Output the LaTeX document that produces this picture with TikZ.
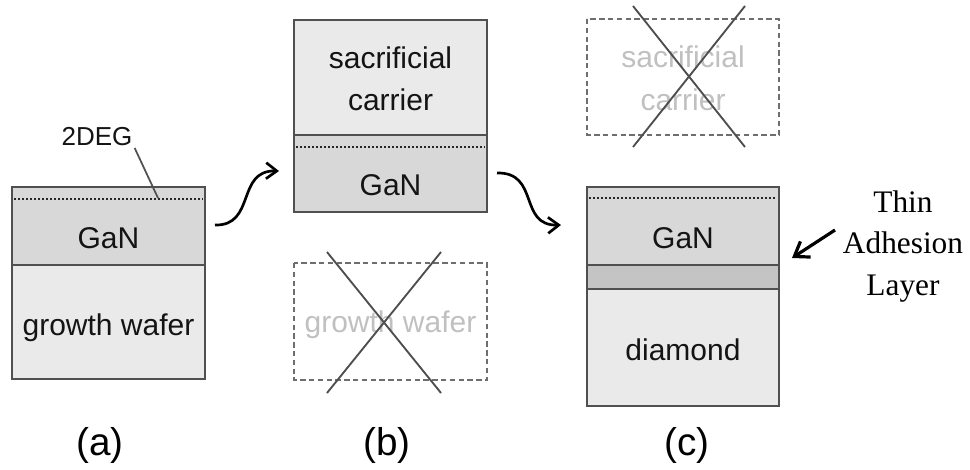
\documentclass[tikz,border=0pt]{standalone}
\usepackage{fontspec}
\setmainfont{Liberation Sans}
\newfontfamily\notefont{Liberation Serif}
\usetikzlibrary{arrows.meta}

\definecolor{edge}{HTML}{505050}
\definecolor{ganfill}{HTML}{D8D8D8}
\definecolor{basefill}{HTML}{EAEAEA}
\definecolor{gluefill}{HTML}{C4C4C4}
\definecolor{ghost}{HTML}{C0C0C0}
\definecolor{dashgray}{HTML}{6E6E6E}
\definecolor{crossgray}{HTML}{4E4E4E}

\begin{document}
\begin{tikzpicture}[x=0.75pt,y=-0.75pt,
  layer/.style={draw=edge, line width=1.7pt},
  gasline/.style={draw=black!85, line width=2pt, dash pattern=on 1.5pt off 1.5pt},
  removed/.style={draw=dashgray, line width=1.6pt, dash pattern=on 4pt off 2.6pt},
  strike/.style={draw=crossgray, line width=1.4pt},
  body/.style={anchor=base, inner sep=0pt, text=black!92, font=\fontsize{22.5}{27}\selectfont},
  ghosttext/.style={body, text=ghost},
  tag/.style={anchor=base, inner sep=0pt, font=\fontsize{29}{34}\selectfont},
  note/.style={anchor=base, inner sep=0pt, font=\notefont\fontsize{23.5}{28}\selectfont},
  flow/.style={draw=black, line width=2pt, -{Straight Barb[length=8pt,width=12pt]}}
]
\useasboundingbox (0,0) rectangle (970,469);

% ---- (a) as grown ----
\filldraw[layer, fill=basefill] (12,265) rectangle (205,379);
\filldraw[layer, fill=ganfill] (12,187) rectangle (205,265);
\draw[gasline] (14,199) -- (203,199);
\node[body] (aGaN) at (108.5,248) {GaN};
\node[body] (aWafer) at (108.5,335) {growth wafer};
\node[body, font=\fontsize{19.5}{23}\selectfont] (deg) at (97,145) {2DEG};
\coordinate (degTip) at (158,198);
\draw[edge, line width=1.3pt] (deg.base east) ++(2,3) -- (degTip);
\node[tag] (la) at (100,455) {(a)};

% ---- (b) on sacrificial carrier ----
\filldraw[layer, fill=basefill] (294,20) rectangle (487,135);
\filldraw[layer, fill=ganfill] (294,135) rectangle (487,212);
\draw[gasline] (296,147) -- (485,147);
\node[body] (bTop) at (390.5,68) {sacrificial};
\node[body] (bTop2) at (390.5,110) {carrier};
\node[body] (bGaN) at (390.5,195) {GaN};

\draw[removed] (294,263) rectangle (487,380);
\node[ghosttext] (bGhost) at (390.5,332) {growth wafer};
\draw[strike] (327,252) -- (441,393);
\draw[strike] (441,252) -- (327,393);
\node[tag] (lb) at (387,455) {(b)};

% ---- (c) on diamond ----
\draw[removed] (587,19) rectangle (779,135);
\node[ghosttext] (cGhost) at (683,67) {sacrificial};
\node[ghosttext] (cGhost2) at (683,110) {carrier};
\draw[strike] (633,6) -- (745,147);
\draw[strike] (745,6) -- (633,147);

\filldraw[layer, fill=basefill] (587,289) rectangle (779,406);
\filldraw[layer, fill=gluefill] (587,265) rectangle (779,289);
\filldraw[layer, fill=ganfill] (587,187) rectangle (779,265);
\draw[gasline] (589,198) -- (777,198);
\node[body] (cGaN) at (683,248) {GaN};
\node[body] (cDia) at (683,360) {diamond};
\node[tag] (lc) at (687,455) {(c)};

% adhesion layer callout
\node[note] (n1) at (903,212) {Thin};
\node[note] (n2) at (903,253) {Adhesion};
\node[note] (n3) at (903,295) {Layer};
\coordinate (glueTip) at (792,258);
\draw[flow, line width=2.4pt, -{Straight Barb[length=10pt,width=14pt]}] (835,230) -- (glueTip);

% ---- process arrows ----
\coordinate (s1) at (215,225);
\coordinate (e1) at (279,171);
\draw[flow] (s1) .. controls (256,226) and (236,170) .. (e1);
\coordinate (s2) at (497,173);
\coordinate (e2) at (561,225);
\draw[flow] (s2) .. controls (540,172) and (518,226) .. (e2);
\end{tikzpicture}
\end{document}
